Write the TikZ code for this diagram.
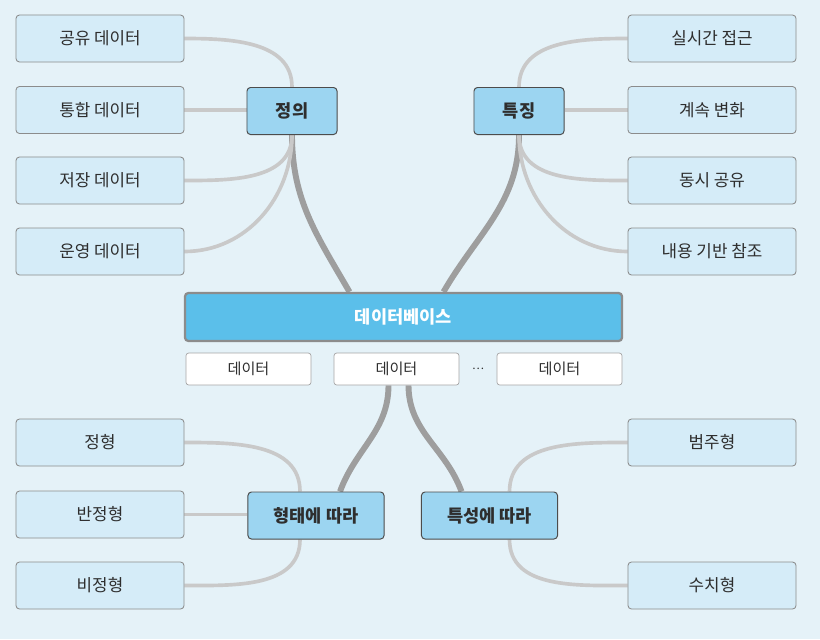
\documentclass[tikz,border=0pt]{standalone}
\usepackage{fontspec}
\setmainfont{Noto Sans CJK KR}
\definecolor{bgblue}{HTML}{E5F2F8}
\definecolor{leaffill}{HTML}{D5ECF8}
\definecolor{hubfill}{HTML}{9CD5F1}
\definecolor{dbfill}{HTML}{5BBFEA}
\definecolor{linkgray}{HTML}{C9C9C9}
\definecolor{trunkgray}{HTML}{9E9E9E}
\definecolor{txtgray}{HTML}{2E2E2E}
\pgfdeclarelayer{backdrop}
\pgfdeclarelayer{links}
\pgfsetlayers{backdrop,links,main}

\begin{document}
\begin{tikzpicture}[
  x=0.025cm, y=-0.025cm,
  font=\fontsize{12}{14}\selectfont, text=txtgray,
  leaf/.style={rectangle, rounded corners=2.5pt, draw=black!45, line width=0.6pt, fill=leaffill,
    minimum width=4.2cm, minimum height=1.175cm, inner sep=0pt},
  hub/.style={rectangle, rounded corners=2.5pt, draw=black!70, line width=0.7pt, fill=hubfill,
    minimum height=1.175cm, inner sep=0pt, font=\fontsize{12.5}{14}\selectfont\bfseries},
  datacell/.style={rectangle, rounded corners=2pt, draw=black!35, line width=0.5pt, fill=white,
    minimum width=3.125cm, minimum height=0.8cm, inner sep=0pt, font=\fontsize{10.8}{12}\selectfont},
  link/.style={draw=linkgray, line width=2.6pt},
  trunk/.style={draw=trunkgray, line width=4.2pt}
]
  \begin{pgfonlayer}{backdrop}
    \fill[bgblue] (0,0) rectangle (820,639);
  \end{pgfonlayer}

  % central bar with its data cells
  \node[rectangle, rounded corners=2.5pt, draw=black!45, line width=1.6pt, fill=dbfill,
    minimum width=10.925cm, minimum height=1.2cm, text=white,
    font=\fontsize{12.5}{14}\selectfont\bfseries] (db) at (403.5,317) {데이터베이스};
  \node[datacell] (cell1) at (248.5,369) {데이터};
  \node[datacell] (cell2) at (396.5,369) {데이터};
  \node[datacell] (cell3) at (559.5,369) {데이터};
  \node[font=\fontsize{8}{10}\selectfont] (dots) at (478,369) {…};

  % four topic boxes
  \node[hub, minimum width=2.25cm] (def) at (292,111) {정의};
  \node[hub, minimum width=2.25cm] (feat) at (519,111) {특징};
  \node[hub, minimum width=3.4cm] (shape) at (316,515.5) {형태에 따라};
  \node[hub, minimum width=3.4cm] (prop) at (489.5,515.5) {특성에 따라};

  \foreach \i/\y/\txt in {1/38.5/공유 데이터, 2/110/통합 데이터, 3/180.5/저장 데이터, 4/251.5/운영 데이터} {
    \node[leaf] (defleaf\i) at (100,\y) {\txt};
  }
  \foreach \i/\y/\txt in {1/38.5/실시간 접근, 2/110/계속 변화, 3/180.5/동시 공유, 4/251.5/내용 기반 참조} {
    \node[leaf] (featleaf\i) at (712,\y) {\txt};
  }
  \foreach \i/\y/\txt in {1/442.5/정형, 2/514.5/반정형, 3/585.5/비정형} {
    \node[leaf] (shapeleaf\i) at (100,\y) {\txt};
  }
  \node[leaf] (propleaf1) at (712,442.5) {범주형};
  \node[leaf] (propleaf2) at (712,585.5) {수치형};

  \begin{pgfonlayer}{links}
    % topics to the central bar
    \draw[trunk] (def.south) to[out=-90,in=120] ([xshift=-1.35cm]db.north);
    \draw[trunk] (feat.south) to[out=-90,in=60] ([xshift=1.0cm]db.north);
    \draw[trunk] ([xshift=-0.2cm]cell2.south) to[out=-90,in=70] ([xshift=0.6cm]shape.north);
    \draw[trunk] ([xshift=0.3cm]cell2.south) to[out=-90,in=110] ([xshift=-0.7cm]prop.north);

    % leaves to their topics
    \draw[link] (defleaf1.east) to[out=0,in=90] (def.north);
    \draw[link] (defleaf2.east) -- (defleaf2.east -| def.west);
    \draw[link] (defleaf3.east) to[out=0,in=-90] (def.south);
    \draw[link] (defleaf4.east) to[out=0,in=-90] (def.south);
    \draw[link] (featleaf1.west) to[out=180,in=90] (feat.north);
    \draw[link] (featleaf2.west) -- (featleaf2.west -| feat.east);
    \draw[link] (featleaf3.west) to[out=180,in=-90] (feat.south);
    \draw[link] (featleaf4.west) to[out=180,in=-90] (feat.south);
    \draw[link] (shapeleaf1.east) to[out=0,in=90] ([xshift=-0.4cm]shape.north);
    \draw[link] (shapeleaf2.east) -- (shapeleaf2.east -| shape.west);
    \draw[link] (shapeleaf3.east) to[out=0,in=-90] ([xshift=-0.4cm]shape.south);
    \draw[link] (propleaf1.west) to[out=180,in=90] ([xshift=0.5cm]prop.north);
    \draw[link] (propleaf2.west) to[out=180,in=-90] ([xshift=0.5cm]prop.south);
  \end{pgfonlayer}
\end{tikzpicture}
\end{document}
